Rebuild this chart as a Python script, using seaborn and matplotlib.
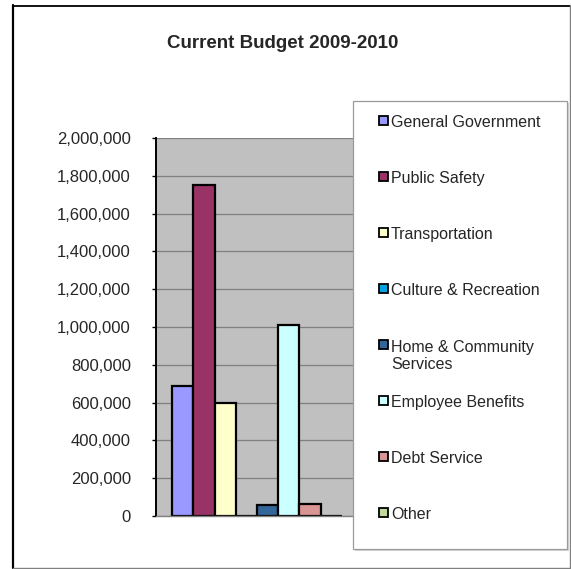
import matplotlib
matplotlib.use("Agg")
import matplotlib.pyplot as plt
from matplotlib.patches import Rectangle
from matplotlib.lines import Line2D
import seaborn as sns
import pandas as pd

departments = [
    "General Government",
    "Public Safety",
    "Transportation",
    "Culture & Recreation",
    "Home & Community\nServices",
    "Employee Benefits",
    "Debt Service",
    "Other",
]
amounts = [690000, 1750000, 600000, 0, 58000, 1010000, 62000, 0]
colors = ["#9999FF", "#993366", "#FFFFCC", "#00A2E0",
          "#336699", "#CCFFFF", "#D99594", "#C3D69B"]
y_ticks = [0, 200000, 400000, 600000, 800000, 1000000,
           1200000, 1400000, 1600000, 1800000, 2000000]
title = "Current Budget 2009-2010"

sns.set_style("white")
plt.rcParams["font.family"] = ["Liberation Sans", "DejaVu Sans"]

W, H = 571, 569
fig = plt.figure(figsize=(W / 100, H / 100), dpi=100)
fig.patch.set_facecolor("white")


def fx(px):
    return px / W


def fy(py):
    return 1 - py / H


# plot area
ax_left, ax_right, ax_top, ax_bottom = 156, 358, 138, 516
ax = fig.add_axes([fx(ax_left), fy(ax_bottom),
                   fx(ax_right - ax_left), (ax_bottom - ax_top) / H])
ax.set_facecolor("#C0C0C0")

df = pd.DataFrame({"group": [""] * len(departments),
                   "department": departments,
                   "amount": amounts})
sns.barplot(data=df, x="group", y="amount", hue="department",
            hue_order=departments, palette=dict(zip(departments, colors)),
            width=0.84, dodge=True, saturation=1, errorbar=None,
            edgecolor="black", linewidth=1.6, legend=False, ax=ax)

ax.set_ylim(0, 2000000)
ax.set_yticks(y_ticks)
ax.set_yticklabels([f"{v:,}" for v in y_ticks])
ax.set_xlabel("")
ax.set_ylabel("")
ax.tick_params(axis="x", length=0, labelbottom=False)
ax.tick_params(axis="y", direction="out", length=3, width=1, color="black",
               pad=15, labelsize=12, left=True)
ax.yaxis.grid(True, color="#808080", linewidth=0.9)
ax.set_axisbelow(True)
for side in ("top", "right"):
    ax.spines[side].set_visible(False)
ax.spines["left"].set_color("black")
ax.spines["left"].set_linewidth(1.4)
ax.spines["bottom"].set_color("#808080")
ax.spines["bottom"].set_linewidth(1.0)

# title
fig.text(fx(283), fy(43), title, ha="center", va="center",
         fontsize=13.5, fontweight="bold")

# legend panel
lx0, lx1, ly0, ly1 = 353, 567, 101, 549
fig.add_artist(Rectangle((fx(lx0 + 2), fy(ly1 + 2)), fx(lx1 - lx0),
                         (ly1 - ly0) / H, transform=fig.transFigure,
                         facecolor="#D4D4D4", edgecolor="none", zorder=5))
fig.add_artist(Rectangle((fx(lx0), fy(ly1)), fx(lx1 - lx0),
                         (ly1 - ly0) / H, transform=fig.transFigure,
                         facecolor="white", edgecolor="#9A9A9A",
                         linewidth=0.9, zorder=6))
line_h = 18
for i, (name, col) in enumerate(zip(departments, colors)):
    yc = 120.7 + 56 * i
    fig.add_artist(Rectangle((fx(379), fy(yc + 4.5)), fx(9), 9 / H,
                             transform=fig.transFigure, facecolor=col,
                             edgecolor="black", linewidth=1.3, zorder=7))
    # the swatch sits beside the first line of a wrapped label
    extra = name.count("\n") * line_h / 2
    fig.text(fx(391), fy(yc + extra), name, ha="left", va="center_baseline",
             fontsize=11.5, linespacing=1.15, zorder=8)

# chart frame
fig.add_artist(Line2D([fx(13), fx(13)], [fy(5), fy(568)],
                      transform=fig.transFigure, color="black", lw=1.6))
fig.add_artist(Line2D([fx(13), fx(570)], [fy(5.5), fy(5.5)],
                      transform=fig.transFigure, color="black", lw=1.3))
fig.add_artist(Line2D([fx(570), fx(570)], [fy(5), fy(568)],
                      transform=fig.transFigure, color="#808080", lw=1.0))
fig.add_artist(Line2D([fx(13), fx(570)], [fy(568), fy(568)],
                      transform=fig.transFigure, color="#808080", lw=1.0))

fig.savefig("out.png", dpi=100, facecolor="white")
